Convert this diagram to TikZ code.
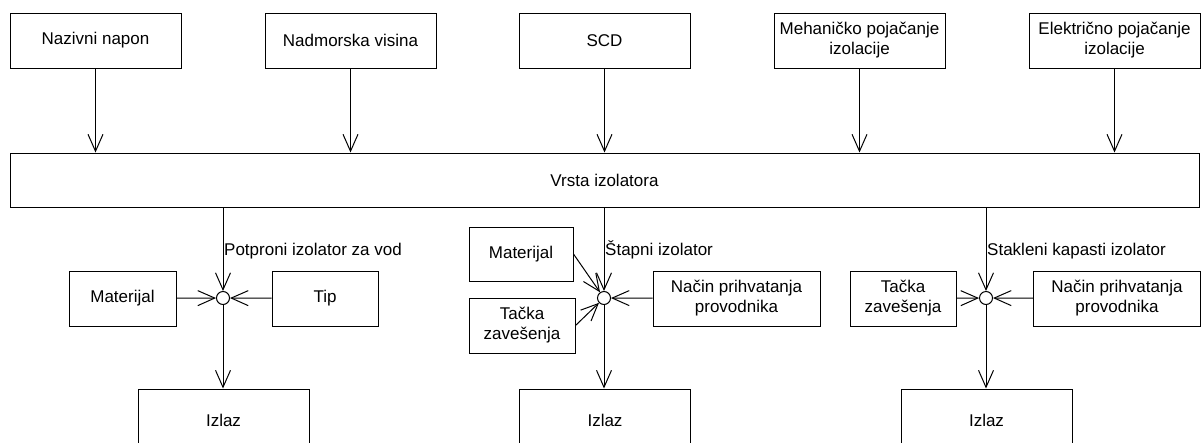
\documentclass[tikz,border=0pt]{standalone}
\usepackage{fontspec}
\setmainfont{Liberation Sans}
\usetikzlibrary{arrows.meta}
\begin{document}
\begin{tikzpicture}[x=1pt,y=-1pt,
  box/.style={draw, line width=1pt, inner sep=0pt, align=center, font=\fontsize{17}{20}\selectfont},
  topbox/.style={box, minimum width=171pt, minimum height=55pt},
  sidebox/.style={box, minimum width=106pt, minimum height=55pt},
  widebox/.style={box, minimum width=167pt, minimum height=55pt},
  arr/.style={line width=1pt, -{Straight Barb[length=17pt,width=15pt]}},
  junc/.style={draw, circle, line width=1pt, minimum size=13pt, inner sep=0pt, fill=white},
  lbl/.style={inner sep=0pt, anchor=base west, font=\fontsize{17}{20}\selectfont}]
\useasboundingbox (0,0) rectangle (1204,442);
\clip (0,0) rectangle (1204,442);
% top boxes
\node[topbox] (t1) at (95.5,40.5) {Nazivni napon};
\node[topbox] (t2) at (350.5,40.5) {Nadmorska visina};
\node[topbox] (t3) at (604.5,40.5) {SCD};
\node[topbox] (t4) at (859.5,40.5) {Mehaničko pojačanje\\izolacije};
\node[topbox] (t5) at (1114.5,40.5) {Električno pojačanje\\izolacije};
% bar
\node[box, minimum width=1189pt, minimum height=54pt] (bar) at (604.5,180) {Vrsta izolatora};
\foreach \t in {t1,t2,t3,t4,t5} \draw[arr] (\t) -- (\t |- bar.north);
% junctions
\node[junc] (c1) at (223,298) {};
\node[junc] (c2) at (604,298) {};
\node[junc] (c3) at (986,298) {};
\draw[arr] (c1 |- bar.south) -- (c1);
\draw[arr] (c2 |- bar.south) -- (c2);
\draw[arr] (c3 |- bar.south) -- (c3);
% labels
\node[lbl] (l1) at (224,255) {Potproni izolator za vod};
\node[lbl] (l2) at (605,255) {Štapni izolator};
\node[lbl] (l3) at (987,255) {Stakleni kapasti izolator};
% left group
\node[sidebox, minimum width=107pt] (m1) at (122.5,298.5) {Materijal};
\node[sidebox] (tip1) at (325,298.5) {Tip};
\draw[arr] (m1) -- (c1);
\draw[arr] (tip1) -- (c1);
% middle group
\node[sidebox, minimum width=104pt, minimum height=54pt] (m2) at (521,254) {Materijal};
\node[sidebox] (z2) at (522,325.5) {Tačka\\zavešenja};
\node[widebox] (n2) at (736.5,298.5) {Način prihvatanja\\provodnika};
\draw[arr] (m2.east) -- (c2);
\draw[arr] (z2.east) -- (c2);
\draw[arr] (n2) -- (c2);
% right group
\node[sidebox] (z3) at (903,298.5) {Tačka\\zavešenja};
\node[widebox] (n3) at (1117,298.5) {Način prihvatanja\\provodnika};
\draw[arr] (z3) -- (c3);
\draw[arr] (n3) -- (c3);
% outputs
\node[topbox, minimum height=62pt] (iz1) at (223.5,420) {Izlaz};
\node[topbox, minimum height=62pt] (iz2) at (605,420) {Izlaz};
\node[topbox, minimum height=62pt] (iz3) at (986.5,420) {Izlaz};
\draw[arr] (c1) -- (c1 |- iz1.north);
\draw[arr] (c2) -- (c2 |- iz2.north);
\draw[arr] (c3) -- (c3 |- iz3.north);
\end{tikzpicture}
\end{document}
